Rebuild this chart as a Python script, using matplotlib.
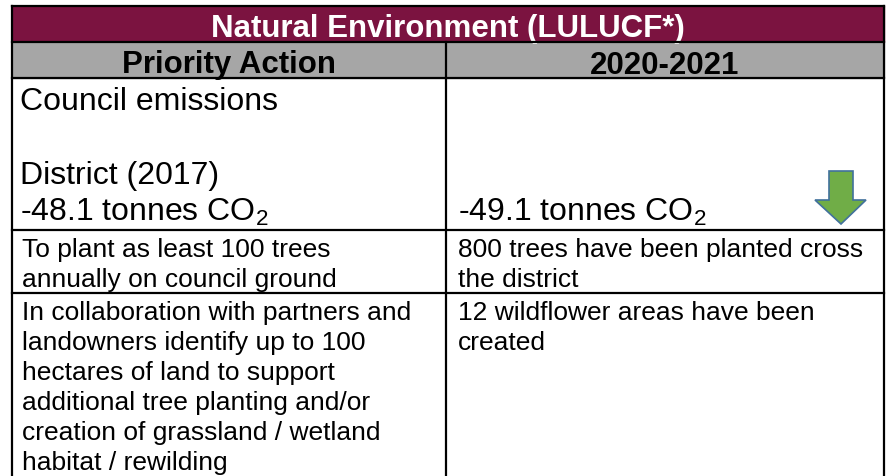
import matplotlib
matplotlib.use("Agg")
import matplotlib.pyplot as plt
from matplotlib.patches import Rectangle, Polygon

plt.rcParams['font.family'] = ['Liberation Sans', 'DejaVu Sans']
plt.rcParams['mathtext.fontset'] = 'custom'
plt.rcParams['mathtext.rm'] = 'Liberation Sans'

# table content
title = "Natural Environment (LULUCF*)"
col_headers = ["Priority Action", "2020-2021"]
emission_left = ["Council emissions", "", "District (2017)", "-48.1 tonnes CO$_2$"]
emission_right = ["", "", "", "-49.1 tonnes CO$_2$"]
actions = [
    ["To plant as least 100 trees", "annually on council ground"],
    ["In collaboration with partners and", "landowners identify up to 100",
     "hectares of land to support", "additional tree planting and/or",
     "creation of grassland / wetland", "habitat / rewilding"],
]
progress = [
    ["800 trees have been planted cross", "the district"],
    ["12 wildflower areas have been", "created"],
]

maroon = "#7B1340"
grey = "#A6A6A6"

fig = plt.figure(figsize=(8.86, 4.77), dpi=100)
ax = fig.add_axes([0, 0, 1, 1])
ax.set_xlim(0, 886)
ax.set_ylim(477, 0)
ax.axis("off")

x0, xm, x1 = 12, 446, 884
y_title, y_head, y_em, y_r1, y_r2 = 7, 43, 79, 231, 294

# header fills
ax.add_patch(Rectangle((x0, y_title), x1 - x0, y_head - y_title, color=maroon, zorder=1))
ax.add_patch(Rectangle((x0, y_head), x1 - x0, y_em - y_head, color=grey, zorder=1))

hsize = 22.5
ax.text((x0 + x1) / 2, (y_title + y_head) / 2 + 1, title, color="white", fontsize=hsize,
        fontweight="bold", ha="center", va="center_baseline")
ax.text((x0 + xm) / 2, (y_head + y_em) / 2 + 1, col_headers[0], fontsize=hsize,
        fontweight="bold", ha="center", va="center_baseline")
ax.text((xm + x1) / 2, (y_head + y_em) / 2 + 1, col_headers[1], fontsize=hsize,
        fontweight="bold", ha="center", va="center_baseline")

# grid lines
lw = 1.6
for y in [y_title, y_head, y_em, y_r1, y_r2]:
    ax.plot([x0, x1], [y, y], color="black", lw=lw, zorder=3)
ax.plot([x0, x0], [y_title, 477], color="black", lw=lw, zorder=3)
ax.plot([x1, x1], [y_title, 477], color="black", lw=lw, zorder=3)
ax.plot([xm, xm], [y_head, 477], color="black", lw=lw, zorder=3)

# emissions row
big = 23
line_big = 37
for i, (sl, sr) in enumerate(zip(emission_left, emission_right)):
    ax.text(x0 + 8, y_em + 31 + i * line_big, sl, fontsize=big, va="baseline", ha="left")
    ax.text(xm + 12, y_em + 31 + i * line_big, sr, fontsize=big, va="baseline", ha="left")

# down arrow
arrow = Polygon([(829, 172), (853, 172), (853, 201), (866, 201), (841, 225),
                 (815, 201), (829, 201)], closed=True, facecolor="#70AD47",
                edgecolor="#41719C", lw=1.2, zorder=4)
ax.add_patch(arrow)

# action rows
small = 19
line_small = 30
for top, left_lines, right_lines in zip([y_r1, y_r2], actions, progress):
    for i, s in enumerate(left_lines):
        ax.text(x0 + 10, top + 26 + i * line_small, s, fontsize=small, va="baseline", ha="left")
    for i, s in enumerate(right_lines):
        ax.text(xm + 12, top + 26 + i * line_small, s, fontsize=small, va="baseline", ha="left")

fig.savefig("out.png", dpi=100)
